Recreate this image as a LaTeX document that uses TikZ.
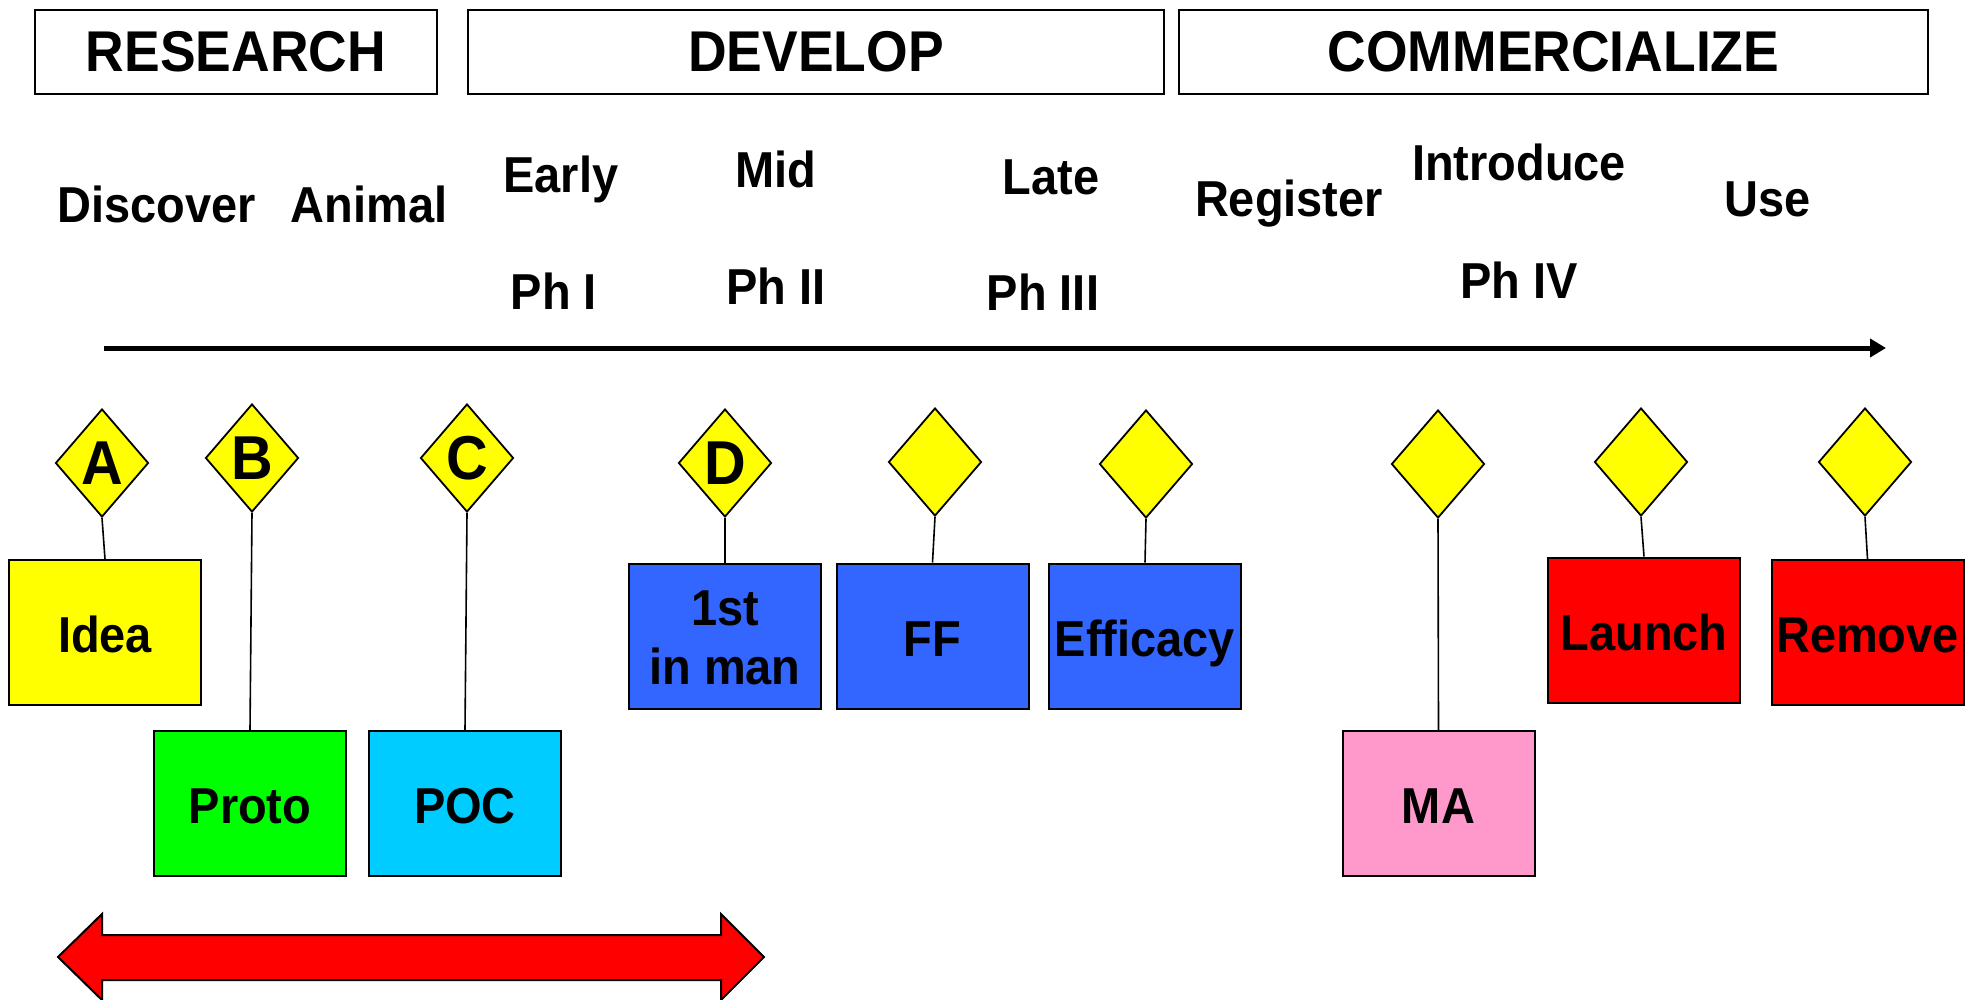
\documentclass[tikz,border=0pt]{standalone}
\usepackage{fontspec}
\setmainfont[FakeStretch=0.93]{Liberation Sans}
\usetikzlibrary{shapes.geometric,arrows.meta}
\definecolor{cYellow}{RGB}{255,255,0}
\definecolor{cGreen}{RGB}{0,255,0}
\definecolor{cCyan}{RGB}{0,204,255}
\definecolor{cBlue}{RGB}{51,102,255}
\definecolor{cPink}{RGB}{255,153,204}
\definecolor{cRed}{RGB}{255,0,0}
\newcommand\lowtwo[2]{\raisebox{0pt}[\dimexpr\height+14pt\relax][\depth]{\begin{tabular}{@{}c@{}}#1\\#2\end{tabular}}}
\begin{document}
\begin{tikzpicture}[x=1pt,y=-1pt,
  hdr/.style={draw, line width=2.5pt, inner sep=0pt, minimum height=84pt,
    font=\fontsize{57.5}{62}\selectfont\bfseries},
  stage/.style={anchor=base, inner sep=0pt, font=\fontsize{50.5}{55}\selectfont\bfseries},
  gate/.style={diamond, draw, line width=1.8pt, fill=cYellow, inner sep=0pt,
    minimum width=93pt, minimum height=108pt,
    font=\fontsize{62}{64}\selectfont\bfseries},
  stepbox/.style={draw, line width=2pt, inner sep=0pt, minimum width=192pt,
    minimum height=145pt,
    font=\fontsize{50.5}{59}\selectfont\bfseries},
  oneline/.style={stepbox, text height=40pt, text depth=0pt},
  link/.style={line width=1.6pt}]
\useasboundingbox (0,0) rectangle (1973,1000);
\clip (0,0) rectangle (1973,1000);
\fill[white] (0,0) rectangle (1973,1000);

% headers
\node[hdr, minimum width=402pt] (hR) at (236,52) {RESEARCH};
\node[hdr, minimum width=696pt] (hD) at (816,52) {DEVELOP};
\node[hdr, minimum width=749pt] (hC) at (1553.5,52) {COMMERCIALIZE};

% stage labels
\node[stage] (sDis) at (157,223) {Discover};
\node[stage] (sAni) at (369,223) {Animal};
\node[stage] (sEar) at (561,193) {Early};
\node[stage] (sP1) at (554,309) {Ph I};
\node[stage] (sMid) at (776,188) {Mid};
\node[stage] (sP2) at (776,305) {Ph II};
\node[stage] (sLat) at (1051,195) {Late};
\node[stage] (sP3) at (1043,311) {Ph III};
\node[stage] (sReg) at (1289,217) {Register};
\node[stage] (sInt) at (1519,181) {Introduce};
\node[stage] (sP4) at (1519,299) {Ph IV};
\node[stage] (sUse) at (1768,217) {Use};

% time axis
\coordinate (axL) at (104,348);
\coordinate (axR) at (1886,348);
\draw[line width=5pt, -{Triangle[length=16pt,width=18pt]}] (axL) -- (axR);

% gates
\node[gate] (gA) at (102,463) {A};
\node[gate] (gB) at (252,458) {B};
\node[gate] (gC) at (467,458) {C};
\node[gate] (gD) at (725,463) {D};
\node[gate] (gE) at (935,462) {};
\node[gate] (gF) at (1146,464) {};
\node[gate] (gG) at (1438,464) {};
\node[gate] (gH) at (1641,462) {};
\node[gate] (gI) at (1865,462) {};

% boxes
\node[oneline, fill=cYellow] (bIdea) at (105,632.5) {Idea};
\node[oneline, fill=cGreen] (bProto) at (250,803.5) {Proto};
\node[oneline, fill=cCyan] (bPOC) at (465,803.5) {POC};
\node[stepbox, fill=cBlue] (bFirst) at (725,636) {\lowtwo{1st}{in man}};
\node[oneline, fill=cBlue] (bFF) at (932.5,636) {FF};
\node[oneline, fill=cBlue] (bEff) at (1145,636) {Efficacy};
\node[oneline, fill=cPink] (bMA) at (1438.5,803.5) {MA};
\node[oneline, fill=cRed] (bLaunch) at (1644,630) {Launch};
\node[oneline, fill=cRed] (bRemove) at (1867.5,632.5) {Remove};

% links
\draw[link] (gA.south) -- (bIdea.north);
\draw[link] (gB.south) -- (bProto.north);
\draw[link] (gC.south) -- (bPOC.north);
\draw[link] (gD.south) -- (bFirst.north);
\draw[link] (gE.south) -- (bFF.north);
\draw[link] (gF.south) -- (bEff.north);
\draw[link] (gG.south) -- (bMA.north);
\draw[link] (gH.south) -- (bLaunch.north);
\draw[link] (gI.south) -- (bRemove.north);

% red double arrow
\draw[fill=cRed, line width=2pt, line join=miter]
  (58,957) -- (102,914) -- (102,935) -- (721,935) -- (721,914) -- (764,957)
  -- (721,1000) -- (721,980) -- (102,980) -- (102,1000) -- cycle;
\end{tikzpicture}
\end{document}
